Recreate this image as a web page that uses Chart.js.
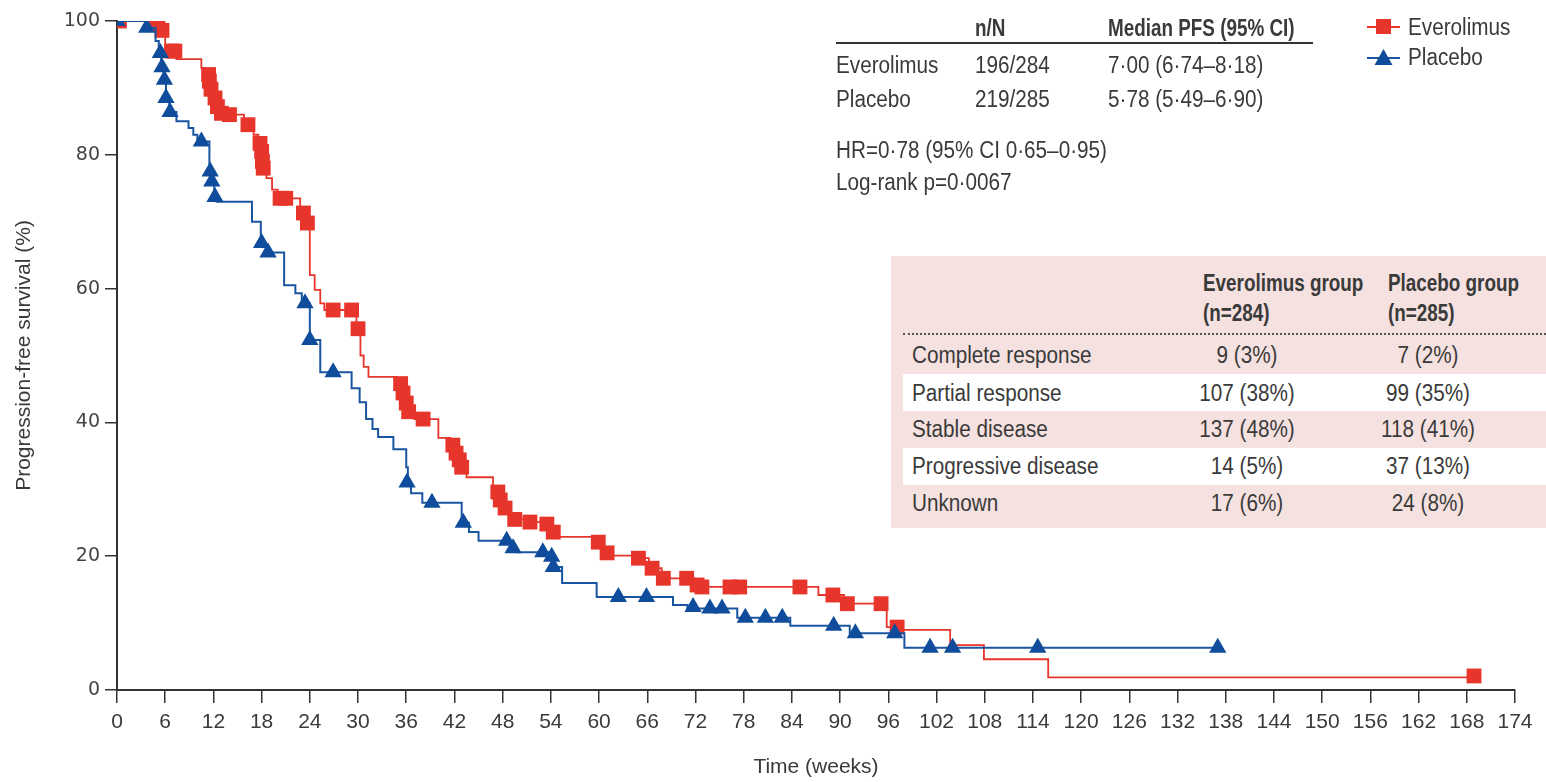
<!DOCTYPE html>
<html>
<head>
<meta charset="utf-8">
<script src="https://cdn.jsdelivr.net/npm/chart.js@4.4.1/dist/chart.umd.min.js"></script>
<style>
  html, body { margin: 0; padding: 0; background: #fff; }
  #wrap { position: relative; width: 1546px; height: 782px; overflow: hidden;
          font-family: 'Liberation Sans', Arial, sans-serif; color: #3a3a3a; }
  #km { position: absolute; left: 0; top: 0; }
  /* the source uses a condensed face, squeeze the text a little */
  .t { position: absolute; font-size: 23px; line-height: 28px; white-space: nowrap;
       transform-origin: left center; transform: scaleX(0.9); }
  .b { font-weight: bold; transform: scaleX(0.82); }
  .c { transform-origin: center center; transform: translateX(-50%) scaleX(0.9); }
  .rule { position: absolute; height: 0; border-top: 2px solid #333; }
  #resp { position: absolute; left: 891px; top: 256px; width: 655px; height: 272px; background: #f5e1e0; }
  .band { position: absolute; left: 12px; right: 0; height: 37px; background: #fff; }
</style>
</head>
<body>
<div id="wrap">
  <canvas id="km" width="1546" height="782"></canvas>

  <!-- median PFS table -->
  <div class="t b" style="left:975px; top:14px">n/N</div>
  <div class="t b" style="left:1108px; top:14px">Median PFS (95% CI)</div>
  <div class="rule" style="left:836px; top:42px; width:477px"></div>
  <div class="t" style="left:836px; top:51px">Everolimus</div>
  <div class="t" style="left:975px; top:51px">196/284</div>
  <div class="t" style="left:1108px; top:51px">7·00 (6·74–8·18)</div>
  <div class="t" style="left:836px; top:85px">Placebo</div>
  <div class="t" style="left:975px; top:85px">219/285</div>
  <div class="t" style="left:1108px; top:85px">5·78 (5·49–6·90)</div>
  <div class="t" style="left:836px; top:136px">HR=0·78 (95% CI 0·65–0·95)</div>
  <div class="t" style="left:836px; top:168px">Log-rank p=0·0067</div>

  <!-- legend -->
  <svg style="position:absolute; left:1364px; top:14px" width="40" height="60">
    <line x1="3" y1="13" x2="36" y2="13" stroke="#e8352b" stroke-width="2"/>
    <rect x="12" y="5" width="15" height="15" fill="#e8352b"/>
    <line x1="3" y1="44" x2="36" y2="44" stroke="#1a56a0" stroke-width="2"/>
    <polygon points="19.5,35 28.5,51 10.5,51" fill="#0f4d9c"/>
  </svg>
  <div class="t" style="left:1408px; top:13px">Everolimus</div>
  <div class="t" style="left:1408px; top:43px">Placebo</div>

  <!-- best response table -->
  <div id="resp">
    <div class="band" style="top:118px"></div>
    <div class="band" style="top:192px"></div>
    <div class="rule" style="left:12px; top:77px; width:643px; border-top:2px dotted #555"></div>
  </div>
  <div class="t b" style="left:1203px; top:269px">Everolimus group</div>
  <div class="t b" style="left:1203px; top:299px">(n=284)</div>
  <div class="t b" style="left:1388px; top:269px">Placebo group</div>
  <div class="t b" style="left:1388px; top:299px">(n=285)</div>
  <div id="rows"></div>
</div>

<script>
// ── Data ────────────────────────────────────────────────────
const xTicks = [0, 174, 6];     // min, max, step (weeks)
const yTicks = [0, 100, 20];    // min, max, step (%)

// Kaplan-Meier steps: week where the curve drops, new level (%)
const everoWeeks = [0, 4.5, 5.5, 6.0, 7.4, 10.5, 11.0, 11.45, 11.6, 12.0, 12.4, 12.8, 13.5, 15.8, 17.0, 17.6, 17.9,
  18.05, 18.15, 18.6, 19.3, 20.0, 22.8, 23.5, 24.0, 24.6, 25.3, 25.8, 29.8, 30.3, 30.7, 31.3, 34.8, 35.5, 35.9,
  36.2, 37.0, 40.0, 41.5, 42.1, 42.5, 42.8, 43.5, 46.8, 47.6, 48.1, 49.0, 51.0, 53.0, 54.0, 55.0, 59.5, 60.6,
  61.3, 64.6, 66.2, 67.8, 71.9, 72.6, 87.3, 90.5, 95.8, 97.5, 103.7, 107.9, 115.9, 168.9];
const everoPct = [100, 99.5, 98.6, 95.5, 94.3, 93, 92, 91, 89.8, 88.5, 87.2, 86.2, 86.0, 84.5, 83, 81.7, 80.5,
  79, 78, 76.5, 74.8, 73.5, 71.3, 69.8, 62, 59.8, 57.8, 56.8, 54, 50, 48.3, 46.8, 45.8, 44.4, 42.9,
  41.6, 40.5, 37.7, 36.6, 35.4, 34.4, 33.3, 31.8, 29.6, 28.4, 27.2, 25.5, 25.1, 24.8, 23.6, 22.9, 22.1, 20.5,
  20.1, 19.7, 18.2, 16.7, 15.7, 15.4, 14.2, 12.9, 9.4, 9.0, 6.7, 4.6, 1.9, 1.9];

const placeboWeeks = [0, 3.6, 4.8, 5.2, 5.5, 5.8, 6.1, 6.5, 7.4, 8.9, 9.5, 10.0, 11.5, 11.8, 12.1, 12.4, 16.8,
  17.9, 18.5, 20.8, 22.2, 23.0, 24.0, 25.3, 29.2, 30.2, 31.0, 31.8, 32.5, 34.4, 36.0, 36.2, 36.6, 38.0, 42.9,
  43.8, 45.0, 49.0, 49.8, 53.8, 54.2, 55.4, 59.7, 69.2, 71.0, 77.2, 83.8, 91.2, 98.0, 137];
const placeboPct = [100, 99, 97, 95.2, 93.1, 91.2, 88.5, 86.4, 85, 84, 83, 82, 77.5, 76, 73.7, 73, 70,
  66.8, 65.4, 60.5, 59.3, 57.8, 52.3, 47.5, 45.1, 43, 40.5, 39, 37.8, 36, 33.3, 31, 29.4, 28, 25,
  23.6, 22.3, 21.2, 20.6, 19.9, 18.4, 16, 13.9, 12.7, 12.2, 10.8, 9.6, 8.5, 6.3, 6.3];

// censored patients (markers)
const everoCensWeeks = [0.3, 4.4, 5.1, 5.6, 6.8, 7.2, 11.4, 11.5, 11.7, 12.2, 12.5, 13.0, 14.0, 16.3, 17.8, 18.0,
  18.1, 18.2, 20.3, 21.0, 23.2, 23.7, 26.9, 29.2, 30.0, 35.3, 35.6, 36.0, 36.3, 38.1, 41.8, 42.2, 42.6, 42.9,
  47.4, 47.7, 48.3, 49.5, 51.4, 53.5, 54.3, 59.9, 61.0, 64.9, 66.6, 68.0, 70.9, 72.2, 72.8, 76.3, 77.5, 85.0,
  89.1, 90.9, 95.1, 97.1, 168.9];
const everoCensPct = [100, 99.5, 99.5, 98.6, 95.5, 95.5, 92, 91, 89.8, 88.5, 87.2, 86.2, 86.0, 84.5, 81.7, 80.5,
  79, 78, 73.5, 73.5, 71.3, 69.8, 56.8, 56.8, 54, 45.8, 44.4, 42.9, 41.6, 40.5, 36.6, 35.4, 34.4, 33.3,
  29.6, 28.4, 27.2, 25.5, 25.1, 24.8, 23.6, 22.1, 20.5, 19.7, 18.2, 16.7, 16.7, 15.7, 15.4, 15.4, 15.4, 15.4,
  14.2, 12.9, 12.9, 9.4, 2.1];

const placeboCensWeeks = [0, 3.7, 5.4, 5.6, 5.9, 6.1, 6.6, 10.5, 11.6, 11.8, 12.2, 18.0, 18.8, 23.4, 24.0, 26.9,
  36.1, 39.2, 43.1, 48.5, 49.3, 53.0, 54.1, 54.3, 62.4, 65.9, 71.7, 73.8, 75.3, 78.2, 80.7, 82.8, 89.2, 91.9,
  96.8, 101.2, 104.0, 114.6, 137.0];
const placeboCensPct = [100, 99, 95.2, 93.1, 91.2, 88.5, 86.4, 82, 77.5, 76, 73.7, 66.8, 65.4, 57.8, 52.3, 47.5,
  31, 28, 25, 22.3, 21.2, 20.6, 19.9, 18.4, 13.9, 13.9, 12.4, 12.2, 12.2, 10.8, 10.8, 10.8, 9.6, 8.5,
  8.5, 6.3, 6.3, 6.3, 6.3];

// best overall response table
const respLabels   = ['Complete response', 'Partial response', 'Stable disease', 'Progressive disease', 'Unknown'];
const respEvero    = ['9 (3%)', '107 (38%)', '137 (48%)', '14 (5%)', '17 (6%)'];
const respPlacebo  = ['7 (2%)', '99 (35%)', '118 (41%)', '37 (13%)', '24 (8%)'];

// ── Colours / fonts ─────────────────────────────────────────
const RED = '#e8352b';
const BLUE = '#1a56a0';
const BLUE_MK = '#0f4d9c';
const AXIS = '#333';
const TXT = '#3a3a3a';
const SANS = "'Liberation Sans', Arial, sans-serif";

function pts(xs, ys) {
    return xs.map((x, i) => ({ x: x, y: ys[i] }));
}

// ── Response table rows ─────────────────────────────────────
(function buildRows() {
    const host = document.getElementById('rows');
    const rowTop = [341, 379, 415, 452, 489];
    respLabels.forEach((lab, i) => {
        host.insertAdjacentHTML('beforeend',
            `<div class="t" style="left:912px; top:${rowTop[i]}px">${lab}</div>` +
            `<div class="t c" style="left:1247px; top:${rowTop[i]}px">${respEvero[i]}</div>` +
            `<div class="t c" style="left:1428px; top:${rowTop[i]}px">${respPlacebo[i]}</div>`);
    });
})();

// ── Chart ───────────────────────────────────────────────────
const ctx = document.getElementById('km').getContext('2d');

new Chart(ctx, {
    type: 'line',
    data: {
        datasets: [
            {
                label: 'Placebo censored',
                type: 'scatter',
                data: pts(placeboCensWeeks, placeboCensPct),
                pointStyle: 'triangle',
                pointRadius: 10,
                backgroundColor: BLUE_MK,
                borderWidth: 0,
                showLine: false
            },
            {
                label: 'Placebo',
                data: pts(placeboWeeks, placeboPct),
                stepped: true,
                borderColor: BLUE,
                borderWidth: 2,
                pointRadius: 0,
                fill: false
            },
            {
                label: 'Everolimus censored',
                type: 'scatter',
                data: pts(everoCensWeeks, everoCensPct),
                pointStyle: 'rect',
                pointRadius: 10.5,
                backgroundColor: RED,
                borderWidth: 0,
                showLine: false
            },
            {
                label: 'Everolimus',
                data: pts(everoWeeks, everoPct),
                stepped: true,
                borderColor: RED,
                borderWidth: 1.8,
                pointRadius: 0,
                fill: false
            }
        ]
    },
    options: {
        responsive: false,
        animation: false,
        devicePixelRatio: 1,
        layout: { padding: { top: 21, right: 31, left: 0, bottom: 0 } },
        plugins: {
            legend: { display: false },
            tooltip: { enabled: false }
        },
        scales: {
            x: {
                type: 'linear',
                min: xTicks[0],
                max: xTicks[1],
                ticks: {
                    stepSize: xTicks[2],
                    color: TXT,
                    font: { family: SANS, size: 21 },
                    padding: 7,
                    maxRotation: 0,
                    autoSkip: false
                },
                grid: { drawOnChartArea: false, drawTicks: true, tickLength: 13, color: AXIS, lineWidth: 1.5 },
                border: { color: AXIS, width: 2 },
                title: {
                    display: true,
                    text: 'Time (weeks)',
                    color: TXT,
                    font: { family: SANS, size: 21 },
                    padding: { top: 0, bottom: 2 }
                },
                afterFit: (scale) => { scale.height = 92; }
            },
            y: {
                min: yTicks[0],
                max: yTicks[1],
                ticks: {
                    stepSize: yTicks[2],
                    color: '#444',
                    font: { family: "'DejaVu Sans', sans-serif", size: 19 },
                    padding: 5
                },
                grid: { drawOnChartArea: false, drawTicks: true, tickLength: 12, color: AXIS, lineWidth: 1.5 },
                border: { color: AXIS, width: 2 },
                title: {
                    display: true,
                    text: 'Progression-free survival (%)',
                    color: TXT,
                    font: { family: SANS, size: 21 },
                    padding: { top: 12, bottom: 0 }
                },
                afterFit: (scale) => { scale.width = 117; }
            }
        }
    }
});
</script>
</body>
</html>
